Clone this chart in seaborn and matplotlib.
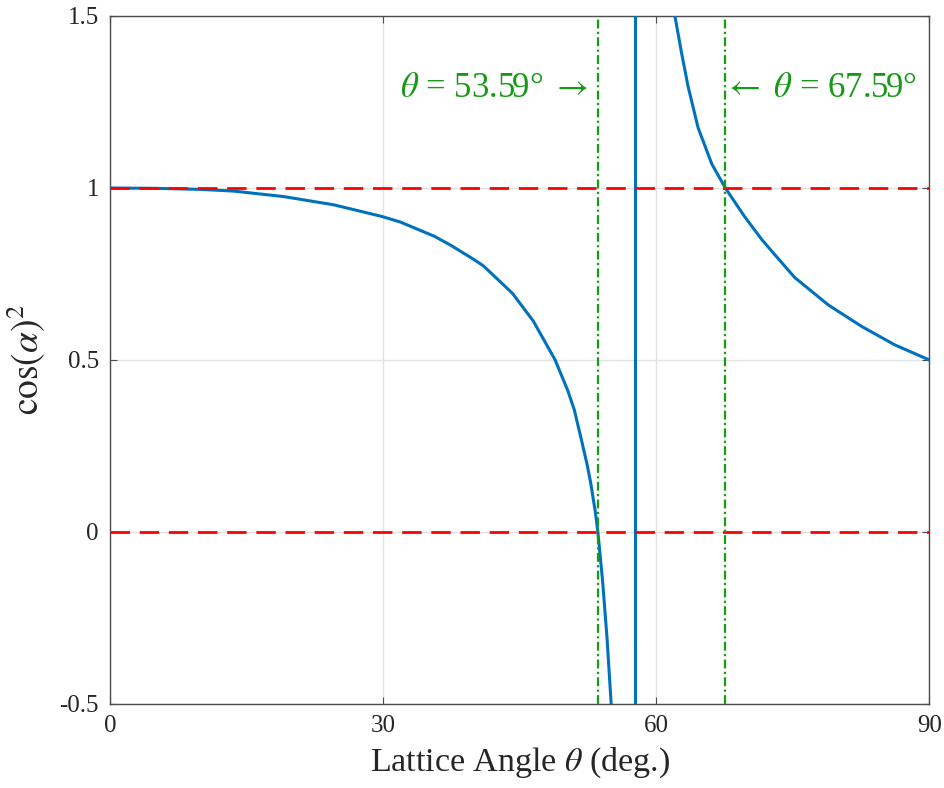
import matplotlib
matplotlib.use("Agg")
import matplotlib.pyplot as plt
import seaborn as sns
import pandas as pd

# ---- data ----
left_theta = [0, 5, 9.9, 13.6, 19.1, 24.6, 29.9, 31.9, 35.6, 37.4, 39.8, 41.0,
              44.2, 46.5, 48.9, 50.3, 51.0, 51.7, 52.4, 52.8, 53.3, 53.59,
              54.1, 54.6, 55.05]
left_cos2 = [1.0, 0.999, 0.996, 0.991, 0.975, 0.951, 0.917, 0.901, 0.860, 0.834,
             0.795, 0.774, 0.694, 0.613, 0.5, 0.41, 0.355, 0.277, 0.197, 0.143,
             0.06, 0.0, -0.14, -0.31, -0.5]
right_theta = [62.05, 62.8, 63.5, 64.6, 66.1, 67.59, 69.7, 71.6, 72.7, 75.2,
               78.9, 82.6, 86.2, 90]
right_cos2 = [1.5, 1.39, 1.295, 1.175, 1.07, 1.0, 0.917, 0.85, 0.816, 0.74,
              0.66, 0.597, 0.544, 0.5]
pole_theta = [57.69, 57.69]
pole_cos2 = [-0.5, 1.5]

ref_levels = [1.0, 0.0]
marked_angles = [53.59, 67.59]
x_ticks = [0, 30, 60, 90]
y_ticks = [-0.5, 0, 0.5, 1, 1.5]
y_tick_labels = ["-0.5", "0", "0.5", "1", "1.5"]

df = pd.concat([
    pd.DataFrame({"theta": left_theta, "cos2": left_cos2, "branch": "left"}),
    pd.DataFrame({"theta": pole_theta, "cos2": pole_cos2, "branch": "pole"}),
    pd.DataFrame({"theta": right_theta, "cos2": right_cos2, "branch": "right"}),
], ignore_index=True)

sns.set_theme(style="white")
plt.rcParams["font.family"] = ["Liberation Serif", "DejaVu Serif"]
plt.rcParams["mathtext.fontset"] = "stix"

BLUE = "#0072BD"
RED = "#FF0000"
GREEN_LINE = "#12A012"
GREEN_TEXT = "#169A16"
SPINE = "#4d4d4d"

fig = plt.figure(figsize=(9.44, 7.88), dpi=100)
ax = fig.add_axes([0.1165, 0.1066, 0.868, 0.8731])

# grid
for xt in x_ticks:
    ax.axvline(xt, color="#e3e3e3", lw=1.0, zorder=0)
for yt in y_ticks:
    ax.axhline(yt, color="#e3e3e3", lw=1.0, zorder=0)

sns.lineplot(data=df, x="theta", y="cos2", units="branch", estimator=None,
             sort=False, color=BLUE, lw=2.2, ax=ax, zorder=3)

for lvl in ref_levels:
    ax.axhline(lvl, color=RED, lw=2.0, ls=(0, (7, 3.5)), zorder=4)
for ang in marked_angles:
    ax.axvline(ang, color=GREEN_LINE, lw=1.6, ls=(0, (4, 1.5, 1, 1.5)), zorder=4)

ax.annotate(r"$\theta$ = 53.59° $\rightarrow$", xy=(marked_angles[0], 1.29),
            xytext=(-7, 0), textcoords="offset points", ha="right", va="center",
            color=GREEN_TEXT, fontsize=25)
ax.annotate(r"$\leftarrow$ $\theta$ = 67.59°", xy=(marked_angles[1], 1.29),
            xytext=(-2, 0), textcoords="offset points", ha="left", va="center",
            color=GREEN_TEXT, fontsize=25)

ax.set_xlim(0, 90)
ax.set_ylim(-0.5, 1.5)
ax.set_xticks(x_ticks)
ax.set_yticks(y_ticks)
ax.set_yticklabels(y_tick_labels)
ax.tick_params(direction="in", length=5, width=0.8, colors=SPINE,
               labelcolor="#262626", labelsize=18, pad=8,
               top=True, right=True, bottom=True, left=True)
for sp in ax.spines.values():
    sp.set_color(SPINE)
    sp.set_linewidth(1.0)
    sp.set_visible(True)

ax.set_xlabel(r"Lattice Angle $\theta$ (deg.)", fontsize=24.5, color="#262626", labelpad=6)
ax.set_ylabel(r"$\mathrm{cos}(\alpha)^2$", fontsize=27, color="#262626", labelpad=8)

fig.savefig("out.png", dpi=100)
